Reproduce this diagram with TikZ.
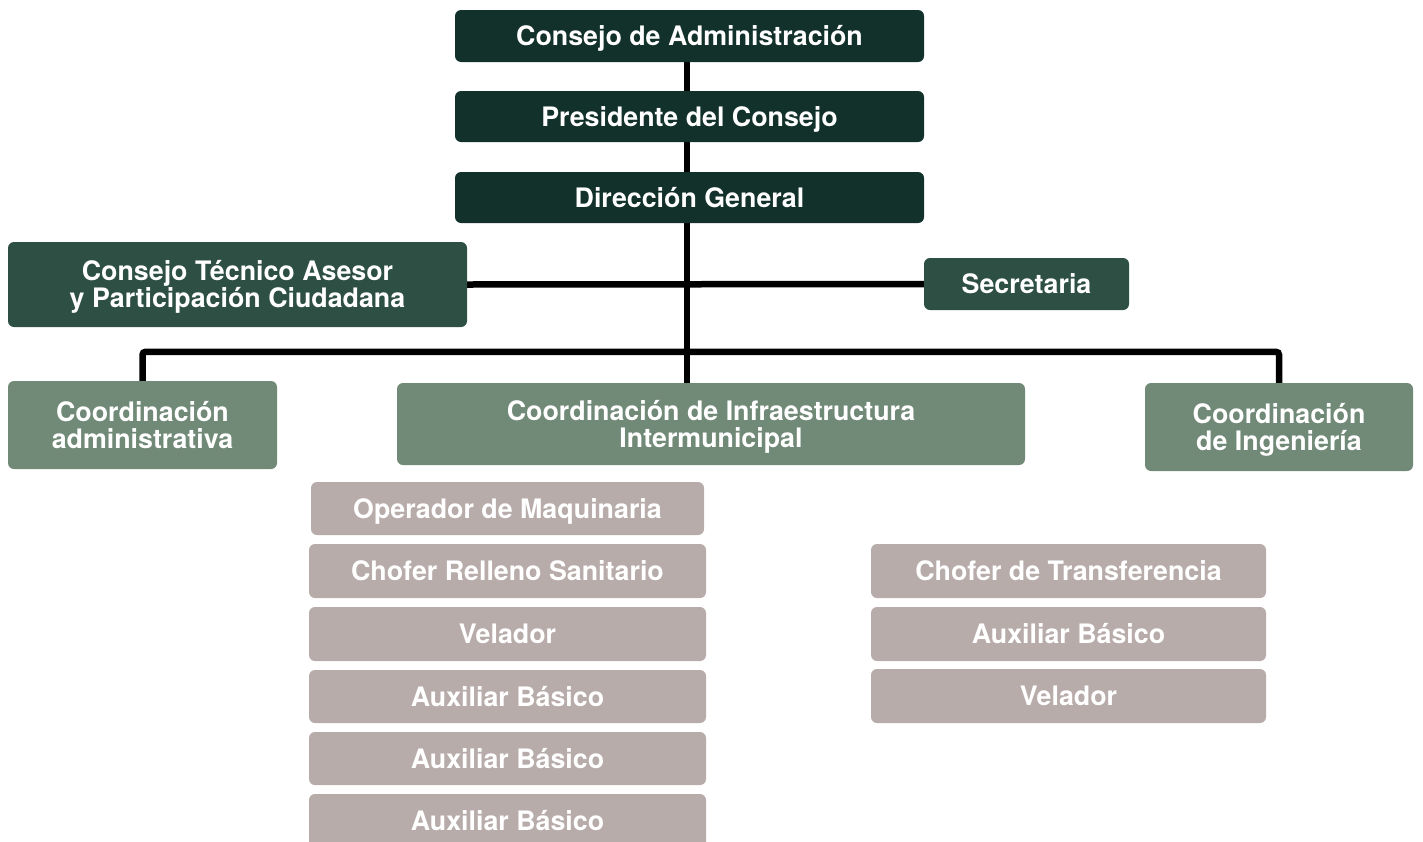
\documentclass[tikz,border=0pt]{standalone}
\usepackage{fontspec}
\setmainfont{TeX Gyre Heros}
\usetikzlibrary{backgrounds}
\definecolor{cDark}{HTML}{12312A}
\definecolor{cMid}{HTML}{2E4F44}
\definecolor{cCoord}{HTML}{718977}
\definecolor{cGrey}{HTML}{B7ACAA}
\tikzset{
  box/.style={rectangle, rounded corners=6pt, text=white, inner sep=0pt, align=center,
    text height=19pt, text depth=0pt,
    font=\fontsize{26.8}{27}\selectfont\bfseries},
  twoline/.style={text height=46pt},
  topbox/.style={box, fill=cDark, minimum width=469pt, minimum height=52pt},
  midbox/.style={box, fill=cMid},
  coordbox/.style={box, fill=cCoord},
  staffbox/.style={box, fill=cGrey, minimum height=54pt},
  link/.style={line width=6.5pt, black}
}
\begin{document}
\begin{tikzpicture}[x=1pt,y=-1pt]
\useasboundingbox (0,0) rectangle (1423,841);
\node[topbox] (cda) at (689.5,36) {Consejo de Administración};
\node[topbox, minimum height=51pt] (pdc) at (689.5,116.5) {Presidente del Consejo};
\node[topbox, minimum height=51pt] (dg) at (689.5,197.5) {Dirección General};
\node[midbox, twoline, minimum width=459pt, minimum height=85pt] (cta) at (237.5,284.5) {Consejo Técnico Asesor\\y Participación Ciudadana};
\node[midbox, minimum width=205pt, minimum height=52pt] (sec) at (1026.5,284) {Secretaria};
\node[coordbox, twoline, minimum width=269pt, minimum height=88pt] (cad) at (142.5,425) {Coordinación\\administrativa};
\node[coordbox, twoline, minimum width=628pt, minimum height=82pt] (cii) at (711,424) {Coordinación de Infraestructura\\Intermunicipal};
\node[coordbox, twoline, minimum width=268pt, minimum height=88pt] (cin) at (1279,427) {Coordinación\\de Ingeniería};
\node[staffbox, minimum width=393pt, minimum height=53pt] (op) at (507.5,508.5) {Operador de Maquinaria};
\node[staffbox, minimum width=397pt] (cr) at (507.5,571) {Chofer Relleno Sanitario};
\node[staffbox, minimum width=397pt] (vel) at (507.5,634) {Velador};
\node[staffbox, minimum width=397pt, minimum height=53pt] (ax1) at (507.5,696.5) {Auxiliar Básico};
\node[staffbox, minimum width=397pt, minimum height=53pt] (ax2) at (507.5,758.5) {Auxiliar Básico};
\node[staffbox, minimum width=397pt] (ax3) at (507.5,821) {Auxiliar Básico};
\node[staffbox, minimum width=395pt] (ct) at (1068.5,571) {Chofer de Transferencia};
\node[staffbox, minimum width=395pt] (axr) at (1068.5,634) {Auxiliar Básico};
\node[staffbox, minimum width=395pt] (velr) at (1068.5,696) {Velador};
\begin{scope}[on background layer]
  \coordinate (spine) at (687,0);
  \draw[link] (cda.south -| spine) -- (cii.north -| spine);
  \draw[link] (cta.east) -- (sec.west);
  \draw[link, rounded corners=3pt] (cad.north) -- ++(0,-29) -| (cin.north);
\end{scope}
\end{tikzpicture}
\end{document}
